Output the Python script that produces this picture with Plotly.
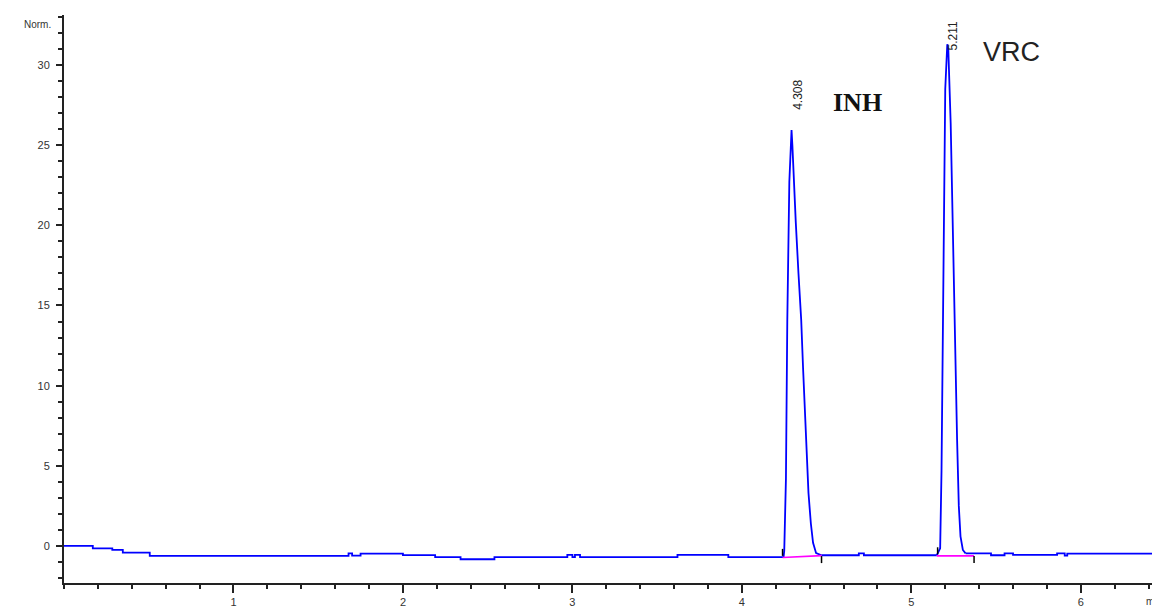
import plotly.graph_objects as go

# Chromatogram baseline segments (time in min, response in Norm.)
base_t = [0.000, 0.170, 0.285, 0.347, 0.506, 1.679, 1.700, 1.750, 2.000, 2.190,
          2.340, 2.540, 2.970, 3.000, 3.015, 3.045, 3.620, 3.920, 4.246, None,
          4.470, 4.690, 4.720, 5.150, None,
          5.320, 5.470, 5.550, 5.600, 5.860, 5.905, 5.920, 6.420]
base_y = [0.00, -0.15, -0.25, -0.42, -0.62, -0.46, -0.60, -0.48, -0.57, -0.70,
          -0.83, -0.70, -0.56, -0.70, -0.56, -0.70, -0.56, -0.70, -0.70, None,
          -0.58, -0.46, -0.58, -0.58, None,
          -0.46, -0.58, -0.46, -0.56, -0.46, -0.60, -0.48, -0.48]

# INH peak
inh_t = [4.246, 4.250, 4.260, 4.268, 4.280, 4.293, 4.298, 4.305, 4.318, 4.334,
         4.350, 4.361, 4.371, 4.381, 4.393, 4.407, 4.420, 4.438, 4.470]
inh_y = [-0.70, -0.30, 4.2, 14.1, 22.7, 25.95, 25.0, 23.2, 20.2, 17.0,
         14.1, 11.1, 8.3, 5.5, 3.3, 1.4, 0.2, -0.45, -0.58]

# VRC peak
vrc_t = [5.150, 5.170, 5.178, 5.187, 5.200, 5.212, 5.218, 5.232, 5.245, 5.258,
         5.270, 5.280, 5.290, 5.304, 5.320]
vrc_y = [-0.58, -0.15, 4.7, 13.8, 28.5, 31.3, 31.0, 26.4, 19.2, 12.1,
         6.6, 2.5, 0.6, -0.25, -0.46]

# Integration baselines
inh_base_t = [4.24, 4.47]
inh_base_y = [-0.72, -0.60]
vrc_base_t = [5.15, 5.37]
vrc_base_y = [-0.62, -0.62]

# Integration start / end marks
start_t = [4.24, 5.155]
start_y = [-0.40, -0.30]
end_t = [4.47, 5.37]
end_y = [-0.85, -0.85]

# Peak retention-time labels and compound names
rt_labels = ["4.308", "5.211"]
rt_x = [4.327, 5.246]
rt_y = [27.1, 30.75]
names = ["INH", "VRC"]
name_x = [4.680, 5.588]
name_y = [27.64, 30.82]

BLUE = "#0000FF"
fig = go.Figure()
fig.add_trace(go.Scatter(x=base_t, y=base_y, mode="lines", line_shape="hv",
                         connectgaps=False,
                         line=dict(color=BLUE, width=1.8), showlegend=False))
fig.add_trace(go.Scatter(x=inh_t, y=inh_y, mode="lines",
                         line=dict(color=BLUE, width=1.8), showlegend=False))
fig.add_trace(go.Scatter(x=vrc_t, y=vrc_y, mode="lines",
                         line=dict(color=BLUE, width=1.8), showlegend=False))
fig.add_trace(go.Scatter(x=inh_base_t, y=inh_base_y, mode="lines",
                         line=dict(color="#FF00FF", width=1.6), showlegend=False))
fig.add_trace(go.Scatter(x=vrc_base_t, y=vrc_base_y, mode="lines",
                         line=dict(color="#FF00FF", width=1.6), showlegend=False))
fig.add_trace(go.Scatter(x=start_t + end_t, y=start_y + end_y, mode="markers",
                         marker=dict(symbol="line-ns", size=5,
                                     line=dict(color="black", width=1.5)),
                         showlegend=False))

for t, x, y in zip(rt_labels, rt_x, rt_y):
    fig.add_annotation(x=x, y=y, xref="x", yref="y", text=t, showarrow=False,
                       textangle=-90, xanchor="center", yanchor="bottom",
                       font=dict(family="Arial, Liberation Sans", size=12, color="#222"))

fig.add_annotation(x=name_x[0], y=name_y[0], xref="x", yref="y", text="<b>" + names[0] + "</b>",
                   showarrow=False, xanchor="center", yanchor="middle",
                   font=dict(family="Liberation Serif, Times New Roman", size=26, color="#111"))
fig.add_annotation(x=name_x[1], y=name_y[1], xref="x", yref="y", text=names[1],
                   showarrow=False, xanchor="center", yanchor="middle",
                   font=dict(family="Arial, Liberation Sans", size=27, color="#222"))

fig.add_annotation(x=0, y=1, xref="paper", yref="paper", text="Norm.", showarrow=False,
                   xanchor="right", yanchor="middle", xshift=-11, yshift=-9,
                   font=dict(family="Arial, Liberation Sans", size=10, color="#333"))
fig.add_annotation(x=1, y=0, xref="paper", yref="paper", text="min", showarrow=False,
                   xanchor="left", yanchor="top", xshift=-8, yshift=-11,
                   font=dict(family="Arial, Liberation Sans", size=10, color="#333"))

axis_common = dict(showgrid=False, zeroline=False, showline=True, linecolor="#222",
                   linewidth=2, ticks="outside", tickcolor="#222", tickwidth=2,
                   tickfont=dict(family="Arial, Liberation Sans", size=11, color="#333"))

fig.update_xaxes(range=[0, 6.42], tickvals=[1, 2, 3, 4, 5, 6], ticklen=8,
                 minor=dict(dtick=0.2, tick0=0, ticks="outside", ticklen=4,
                            tickwidth=2, tickcolor="#222"),
                 **axis_common)
fig.update_yaxes(range=[-2.31, 33.12], dtick=5, tick0=0, ticklen=6,
                 ticklabelstandoff=4,
                 minor=dict(dtick=1, tick0=0, ticks="outside", ticklen=4,
                            tickwidth=2, tickcolor="#222"),
                 **axis_common)

fig.update_layout(width=1152, height=607, margin=dict(l=64, r=0, t=15, b=24),
                  paper_bgcolor="white", plot_bgcolor="white", showlegend=False)

fig.write_html("out.html")
